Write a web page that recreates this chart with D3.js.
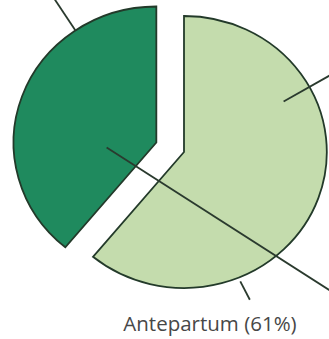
<!DOCTYPE html>
<html>
<head>
<meta charset="utf-8">
<script src="https://cdn.jsdelivr.net/npm/d3@7/dist/d3.min.js"></script>
<style>
  html, body { margin: 0; padding: 0; background: #ffffff; }
  svg { display: block; }
</style>
</head>
<body>
<svg id="chart" width="329" height="339"></svg>
<script>
// Timing of stillbirths: share of each period
const categories = ["Antepartum", "Intrapartum"];
const shares = [61, 39];
const fills = ["#c4dcad", "#1f8a5e"];
const explode = [0, 28];          // pull-out distance for each slice
const labelText = ["Antepartum (61%)", ""];

const W = 329, H = 339;
const cx = 184, cy = 152, R = 136, xStretch = 1.05;
const deg = Math.PI / 180;

const svg = d3.select("#chart");
const pie = d3.pie().sort(null).value(d => d)(shares);
const arc = d3.arc().innerRadius(0).outerRadius(R);

const polar = (a, r) => [r * Math.sin(a), -r * Math.cos(a)];

const g = svg.append("g")
  .attr("transform", `translate(${cx},${cy}) scale(${xStretch},1)`);

const offsetOf = d => {
  const mid = (d.startAngle + d.endAngle) / 2;
  return polar(mid, explode[d.index]);
};

// slices
g.selectAll("path.slice")
  .data(pie)
  .join("path")
  .attr("class", "slice")
  .attr("d", arc)
  .attr("transform", d => `translate(${offsetOf(d)})`)
  .attr("fill", d => fills[d.index])
  .attr("stroke", "#233a2a")
  .attr("stroke-width", 1.8)
  .attr("stroke-linejoin", "miter")
  .attr("vector-effect", "non-scaling-stroke");

// leader lines (angle in degrees, radius as fraction of R), relative to a slice centre
const leaders = [
  { slice: 0, from: [62, 0.79], to: [61, 1.25] },
  { slice: 0, from: [157.5, 1.03], to: [157, 1.18] },
  { slice: 1, from: [325.5, 1.0], to: [326, 1.32] },
  { slice: 1, from: [264, 0.35], to: [131.5, 1.7] }
];

g.selectAll("line.leader")
  .data(leaders)
  .join("line")
  .attr("class", "leader")
  .each(function (l) {
    const o = offsetOf(pie[l.slice]);
    const p1 = polar(l.from[0] * deg, l.from[1] * R);
    const p2 = polar(l.to[0] * deg, l.to[1] * R);
    d3.select(this)
      .attr("x1", o[0] + p1[0]).attr("y1", o[1] + p1[1])
      .attr("x2", o[0] + p2[0]).attr("y2", o[1] + p2[1]);
  })
  .attr("stroke", "#2a3a2e")
  .attr("stroke-width", 1.8)
  .attr("vector-effect", "non-scaling-stroke");

// label
svg.append("text")
  .attr("x", 210)
  .attr("y", 331)
  .attr("text-anchor", "middle")
  .attr("font-family", "'Open Sans', sans-serif")
  .attr("font-size", 20.5)
  .attr("fill", "#474747")
  .text(labelText[0]);
</script>
</body>
</html>
